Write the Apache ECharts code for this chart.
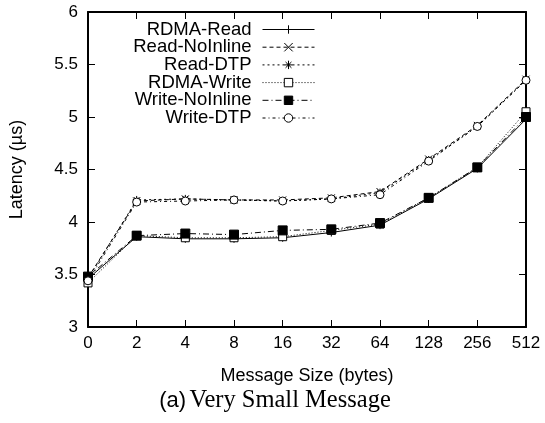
<!DOCTYPE html>
<html>
<head>
<meta charset="utf-8">
<script src="https://cdn.jsdelivr.net/npm/echarts@6/dist/echarts.min.js"></script>
<style>
  html, body { margin: 0; padding: 0; background: #fff; }
  #chart { width: 545px; height: 423px; }
</style>
</head>
<body>
<div id="chart"></div>
<script>
// message sizes (bytes)
const sizes = ["0", "2", "4", "8", "16", "32", "64", "128", "256", "512"];

// latency in us
const rdmaRead      = [3.46, 3.86, 3.84, 3.84, 3.85, 3.90, 3.97, 4.22, 4.51, 4.98];
const readNoInline  = [3.47, 4.20, 4.22, 4.21, 4.21, 4.23, 4.29, 4.60, 4.92, 5.36];
const readDTP       = [3.46, 4.21, 4.22, 4.21, 4.20, 4.22, 4.28, 4.59, 4.91, 5.35];
const rdmaWrite     = [3.42, 3.87, 3.85, 3.85, 3.86, 3.92, 3.98, 4.23, 4.52, 5.05];
const writeNoInline = [3.48, 3.87, 3.89, 3.88, 3.92, 3.93, 3.99, 4.23, 4.52, 5.00];
const writeDTP      = [3.44, 4.19, 4.20, 4.21, 4.20, 4.22, 4.26, 4.58, 4.91, 5.35];

const seriesNames = ["RDMA-Read", "Read-NoInline", "Read-DTP", "RDMA-Write", "Write-NoInline", "Write-DTP"];

const chart = echarts.init(document.getElementById("chart"));

const SANS = "Liberation Sans, Arial, Helvetica, sans-serif";
const SERIF = "Liberation Serif, Times New Roman, serif";

// gnuplot-like point shapes
const plus = "path://M0,5L10,5M5,0L5,10";
const cross = "path://M0,0L10,10M10,0L0,10";
const star = "path://M0,5L10,5M5,0L5,10M1.5,1.5L8.5,8.5M8.5,1.5L1.5,8.5";

function mkSeries(name, data, symbol, size, dash, filled) {
  return {
    name: name,
    type: "line",
    data: data,
    symbol: symbol,
    symbolSize: size,
    showAllSymbol: true,
    lineStyle: { color: "#000", width: 1, type: dash },
    itemStyle: {
      color: filled ? "#000" : "#fff",
      borderColor: "#000",
      borderWidth: 1,
    },
    emphasis: { disabled: true },
    animation: false,
  };
}

const option = {
  backgroundColor: "#fff",
  animation: false,
  grid: { left: 88, right: 19, top: 12, bottom: 96 },
  legend: {
    orient: "vertical",
    align: "right",
    right: 230,
    top: 20,
    padding: 0,
    itemWidth: 52,
    itemHeight: 10.5,
    itemGap: -1.3,
    selectedMode: false,
    lineStyle: { width: 1 },
    itemStyle: { borderWidth: 1 },
    textStyle: {
      fontFamily: SANS,
      fontSize: 18.5,
      color: "#000",
      padding: [0, 6, 0, 0],
    },
    data: seriesNames,
  },
  xAxis: [
    {
      type: "category",
      data: sizes,
      boundaryGap: false,
      axisLine: { lineStyle: { color: "#000", width: 2 } },
      axisTick: { inside: true, length: 7, lineStyle: { color: "#000", width: 1 } },
      axisLabel: { color: "#000", fontFamily: SANS, fontSize: 17, margin: 8 },
      splitLine: { show: false },
    },
    {
      type: "category",
      data: sizes,
      boundaryGap: false,
      position: "top",
      axisLine: { lineStyle: { color: "#000", width: 2 } },
      axisTick: { inside: true, length: 7, lineStyle: { color: "#000", width: 1 } },
      axisLabel: { show: false },
      splitLine: { show: false },
    },
  ],
  yAxis: [
    {
      type: "value",
      min: 3,
      max: 6,
      interval: 0.5,
      name: "Latency (\u00b5s)",
      nameLocation: "middle",
      nameGap: 62,
      nameTextStyle: { color: "#000", fontFamily: SANS, fontSize: 18 },
      axisLine: { show: true, lineStyle: { color: "#000", width: 2 } },
      axisTick: { show: true, inside: true, length: 7, lineStyle: { color: "#000", width: 1 } },
      axisLabel: { color: "#000", fontFamily: SANS, fontSize: 17, margin: 10 },
      splitLine: { show: false },
    },
    {
      type: "value",
      min: 3,
      max: 6,
      interval: 0.5,
      position: "right",
      axisLine: { show: true, lineStyle: { color: "#000", width: 2 } },
      axisTick: { show: true, inside: true, length: 7, lineStyle: { color: "#000", width: 1 } },
      axisLabel: { show: false },
      splitLine: { show: false },
    },
  ],
  graphic: [
    {
      type: "text",
      x: 307,
      y: 376,
      style: {
        text: "Message Size (bytes)",
        fontFamily: SANS,
        fontSize: 18,
        fill: "#000",
        align: "center",
        verticalAlign: "middle",
      },
    },
    {
      type: "text",
      x: 275,
      y: 401,
      style: {
        text: "{a|(a)} {b|Very Small Message}",
        align: "center",
        verticalAlign: "middle",
        rich: {
          a: { fontFamily: SANS, fontSize: 22, fill: "#000" },
          b: { fontFamily: SERIF, fontSize: 24.5, fill: "#000" },
        },
      },
    },
  ],
  series: [
    mkSeries("RDMA-Read", rdmaRead, plus, 8, "solid", true),
    mkSeries("Read-NoInline", readNoInline, cross, 7, [4, 3], true),
    mkSeries("Read-DTP", readDTP, star, 8, [2, 3], true),
    mkSeries("RDMA-Write", rdmaWrite, "rect", 8, [1, 2], false),
    mkSeries("Write-NoInline", writeNoInline, "rect", 9, [6, 3, 1, 3], true),
    mkSeries("Write-DTP", writeDTP, "circle", 8, [3, 3, 1, 3], false),
  ],
};

chart.setOption(option);
</script>
</body>
</html>
